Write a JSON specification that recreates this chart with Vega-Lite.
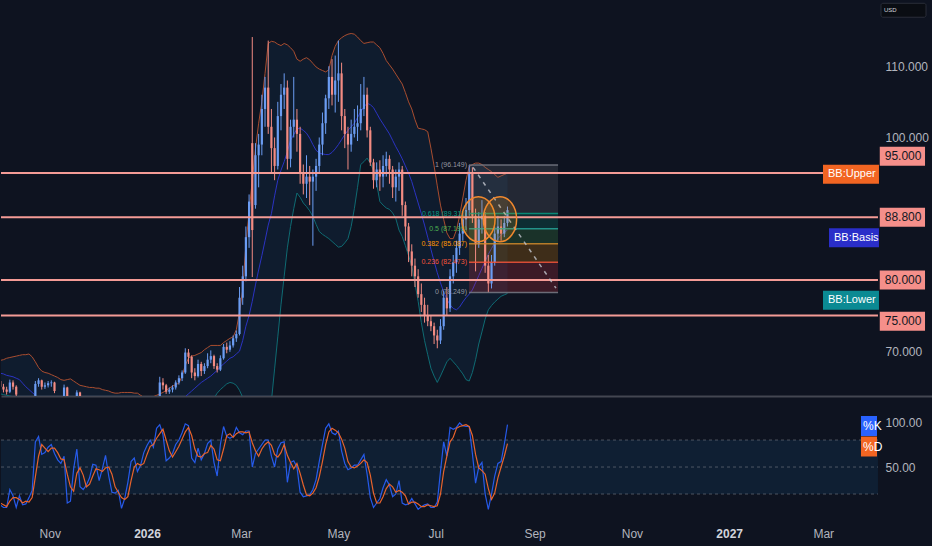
{
  "$schema": "https://vega.github.io/schema/vega-lite/v6.json",
  "background": "#0e1320",
  "padding": {"left": 0, "top": 0, "right": 0, "bottom": 7},
  "config": {
    "font": "Liberation Sans",
    "view": {"stroke": null},
    "concat": {"spacing": 1},
    "axis": {"grid": false, "ticks": false, "domain": false, "labelColor": "#b2b5be", "labelFontSize": 12}
  },
  "datasets": {
    "bars": [
      {"t":"2025-10-01","o":65.8,"h":66.3,"l":64.6,"c":65.0,"u":68.7,"m":66.9,"b":64.0,"k":8,"d":10},
      {"t":"2025-10-03","o":65.0,"h":65.4,"l":64.2,"c":64.6,"u":68.8,"m":66.8,"b":63.9,"k":5,"d":8},
      {"t":"2025-10-05","o":64.6,"h":65.0,"l":63.9,"c":64.3,"u":69.0,"m":66.6,"b":63.8,"k":5,"d":6},
      {"t":"2025-10-07","o":64.3,"h":66.0,"l":64.1,"c":65.6,"u":69.1,"m":66.5,"b":63.7,"k":25,"d":12},
      {"t":"2025-10-09","o":65.6,"h":65.9,"l":64.6,"c":65.0,"u":69.2,"m":66.4,"b":63.6,"k":18,"d":16},
      {"t":"2025-10-11","o":65.0,"h":65.2,"l":63.6,"c":63.9,"u":69.3,"m":66.2,"b":63.3,"k":5,"d":16},
      {"t":"2025-10-13","o":63.5,"h":63.6,"l":62.9,"c":63.3,"u":69.4,"m":66.0,"b":63.0,"k":18,"d":14},
      {"t":"2025-10-15","o":63.3,"h":63.4,"l":62.2,"c":62.6,"u":69.5,"m":65.5,"b":62.6,"k":8,"d":10},
      {"t":"2025-10-17","o":62.6,"h":63.1,"l":62.3,"c":62.8,"u":69.5,"m":65.0,"b":62.3,"k":9,"d":12},
      {"t":"2025-10-19","o":62.8,"h":63.3,"l":62.5,"c":63.1,"u":69.6,"m":64.6,"b":62.0,"k":16,"d":11},
      {"t":"2025-10-21","o":63.1,"h":63.6,"l":62.8,"c":63.4,"u":69.2,"m":64.2,"b":61.7,"k":24,"d":16},
      {"t":"2025-10-23","o":63.4,"h":65.8,"l":63.2,"c":65.4,"u":68.5,"m":63.8,"b":61.4,"k":78,"d":39},
      {"t":"2025-10-25","o":65.4,"h":66.2,"l":65.0,"c":65.9,"u":67.7,"m":63.3,"b":61.2,"k":84,"d":62},
      {"t":"2025-10-27","o":65.9,"h":66.0,"l":64.6,"c":65.0,"u":67.2,"m":63.0,"b":61.0,"k":64,"d":75},
      {"t":"2025-10-29","o":65.0,"h":65.6,"l":64.7,"c":65.2,"u":67.0,"m":62.9,"b":60.9,"k":66,"d":71},
      {"t":"2025-10-31","o":65.2,"h":65.8,"l":64.9,"c":65.5,"u":66.9,"m":62.8,"b":60.8,"k":72,"d":67},
      {"t":"2025-11-02","o":65.5,"h":65.9,"l":65.0,"c":65.6,"u":66.7,"m":62.8,"b":60.8,"k":75,"d":71},
      {"t":"2025-11-04","o":65.6,"h":65.7,"l":64.1,"c":64.4,"u":66.5,"m":62.7,"b":60.7,"k":65,"d":71},
      {"t":"2025-11-06","o":63.4,"h":63.5,"l":62.6,"c":63.0,"u":66.3,"m":62.6,"b":60.6,"k":58,"d":66},
      {"t":"2025-11-08","o":63.0,"h":63.5,"l":62.7,"c":63.3,"u":66.0,"m":62.5,"b":60.5,"k":54,"d":59},
      {"t":"2025-11-10","o":63.3,"h":65.3,"l":63.1,"c":64.9,"u":65.9,"m":62.4,"b":60.4,"k":62,"d":58},
      {"t":"2025-11-12","o":64.9,"h":65.0,"l":63.0,"c":63.4,"u":66.0,"m":62.3,"b":60.3,"k":10,"d":42},
      {"t":"2025-11-14","o":63.4,"h":63.5,"l":62.3,"c":62.6,"u":66.1,"m":62.2,"b":60.2,"k":12,"d":28},
      {"t":"2025-11-16","o":62.6,"h":63.4,"l":62.4,"c":63.2,"u":65.8,"m":62.1,"b":60.1,"k":48,"d":23},
      {"t":"2025-11-18","o":63.2,"h":64.5,"l":63.0,"c":64.2,"u":65.5,"m":62.0,"b":60.0,"k":70,"d":43},
      {"t":"2025-11-20","o":64.2,"h":64.3,"l":63.0,"c":63.4,"u":65.2,"m":61.9,"b":59.9,"k":28,"d":49},
      {"t":"2025-11-22","o":63.4,"h":63.5,"l":60.6,"c":61.0,"u":65.1,"m":61.9,"b":59.8,"k":25,"d":41},
      {"t":"2025-11-24","o":61.0,"h":61.6,"l":60.6,"c":61.3,"u":65.0,"m":61.8,"b":59.7,"k":30,"d":28},
      {"t":"2025-11-26","o":61.3,"h":61.9,"l":60.9,"c":61.6,"u":64.9,"m":61.8,"b":59.6,"k":38,"d":31},
      {"t":"2025-11-28","o":61.6,"h":62.3,"l":61.2,"c":62.0,"u":64.9,"m":61.8,"b":59.6,"k":53,"d":40},
      {"t":"2025-11-30","o":62.0,"h":62.3,"l":61.5,"c":61.9,"u":64.8,"m":61.7,"b":59.5,"k":52,"d":48},
      {"t":"2025-12-02","o":61.9,"h":62.2,"l":61.0,"c":61.4,"u":64.8,"m":61.7,"b":59.5,"k":35,"d":47},
      {"t":"2025-12-04","o":61.4,"h":62.1,"l":61.0,"c":61.8,"u":64.6,"m":61.7,"b":59.5,"k":48,"d":45},
      {"t":"2025-12-06","o":61.8,"h":62.6,"l":61.4,"c":62.3,"u":64.5,"m":61.6,"b":59.4,"k":63,"d":49},
      {"t":"2025-12-08","o":62.3,"h":62.6,"l":61.2,"c":61.6,"u":64.4,"m":61.6,"b":59.3,"k":40,"d":50},
      {"t":"2025-12-10","o":61.6,"h":61.9,"l":60.6,"c":61.0,"u":64.2,"m":61.6,"b":59.3,"k":22,"d":42},
      {"t":"2025-12-12","o":61.0,"h":61.3,"l":60.5,"c":60.9,"u":64.1,"m":61.5,"b":59.2,"k":21,"d":28},
      {"t":"2025-12-14","o":60.9,"h":61.3,"l":60.5,"c":61.0,"u":64.1,"m":61.5,"b":59.2,"k":24,"d":22},
      {"t":"2025-12-16","o":61.0,"h":61.3,"l":59.8,"c":60.2,"u":64.2,"m":61.5,"b":59.2,"k":4,"d":16},
      {"t":"2025-12-18","o":60.2,"h":60.9,"l":59.8,"c":60.6,"u":64.2,"m":61.5,"b":59.1,"k":15,"d":14},
      {"t":"2025-12-20","o":60.6,"h":61.5,"l":60.2,"c":61.2,"u":64.2,"m":61.5,"b":59.1,"k":33,"d":17},
      {"t":"2025-12-22","o":61.2,"h":62.2,"l":60.8,"c":61.9,"u":64.2,"m":61.5,"b":59.1,"k":56,"d":35},
      {"t":"2025-12-24","o":61.9,"h":62.4,"l":61.5,"c":62.1,"u":64.1,"m":61.5,"b":59.0,"k":60,"d":50},
      {"t":"2025-12-26","o":62.1,"h":62.4,"l":61.3,"c":61.7,"u":64.1,"m":61.5,"b":59.0,"k":45,"d":54},
      {"t":"2025-12-28","o":61.7,"h":62.2,"l":61.3,"c":61.9,"u":63.8,"m":61.5,"b":59.0,"k":52,"d":52},
      {"t":"2025-12-30","o":61.9,"h":62.7,"l":61.5,"c":62.4,"u":63.5,"m":61.5,"b":59.0,"k":66,"d":54},
      {"t":"2026-01-01","o":62.4,"h":63.0,"l":62.0,"c":62.7,"u":63.4,"m":61.5,"b":59.0,"k":74,"d":64},
      {"t":"2026-01-03","o":62.7,"h":63.2,"l":62.3,"c":62.9,"u":63.4,"m":61.5,"b":59.0,"k":80,"d":73},
      {"t":"2026-01-05","o":62.9,"h":63.2,"l":62.2,"c":62.6,"u":63.6,"m":61.6,"b":59.1,"k":72,"d":75},
      {"t":"2026-01-07","o":62.6,"h":63.3,"l":62.2,"c":63.0,"u":63.8,"m":61.7,"b":59.2,"k":93,"d":82},
      {"t":"2026-01-09","o":63.0,"h":66.4,"l":62.8,"c":65.6,"u":64.0,"m":61.8,"b":59.3,"k":97,"d":87},
      {"t":"2026-01-11","o":65.6,"h":66.2,"l":64.6,"c":65.2,"u":64.2,"m":61.9,"b":59.3,"k":86,"d":92},
      {"t":"2026-01-13","o":65.2,"h":65.4,"l":64.0,"c":64.3,"u":64.5,"m":62.0,"b":59.4,"k":57,"d":80},
      {"t":"2026-01-15","o":64.3,"h":64.9,"l":64.0,"c":64.6,"u":64.8,"m":62.2,"b":59.5,"k":60,"d":68},
      {"t":"2026-01-17","o":64.6,"h":65.2,"l":64.2,"c":64.9,"u":65.1,"m":62.4,"b":59.6,"k":65,"d":61},
      {"t":"2026-01-19","o":64.9,"h":65.9,"l":64.6,"c":65.6,"u":65.3,"m":62.6,"b":59.7,"k":75,"d":67},
      {"t":"2026-01-21","o":65.6,"h":66.6,"l":65.3,"c":66.2,"u":65.5,"m":62.9,"b":59.8,"k":80,"d":73},
      {"t":"2026-01-23","o":66.2,"h":67.3,"l":65.8,"c":67.0,"u":66.5,"m":63.2,"b":59.9,"k":88,"d":81},
      {"t":"2026-01-25","o":67.0,"h":70.4,"l":66.8,"c":69.8,"u":68.0,"m":63.6,"b":60.0,"k":98,"d":89},
      {"t":"2026-01-27","o":69.8,"h":70.3,"l":68.2,"c":69.2,"u":69.0,"m":64.0,"b":60.1,"k":96,"d":94},
      {"t":"2026-01-29","o":69.2,"h":69.4,"l":66.2,"c":67.0,"u":69.3,"m":64.4,"b":60.3,"k":60,"d":85},
      {"t":"2026-01-31","o":67.0,"h":67.6,"l":65.9,"c":66.5,"u":69.4,"m":64.8,"b":60.4,"k":55,"d":70},
      {"t":"2026-02-02","o":66.5,"h":68.8,"l":66.3,"c":68.2,"u":69.6,"m":65.2,"b":60.6,"k":71,"d":62},
      {"t":"2026-02-04","o":68.2,"h":68.5,"l":66.5,"c":67.2,"u":69.8,"m":65.6,"b":60.9,"k":58,"d":61},
      {"t":"2026-02-06","o":67.2,"h":68.3,"l":66.8,"c":67.9,"u":70.2,"m":65.9,"b":61.4,"k":65,"d":65},
      {"t":"2026-02-08","o":67.9,"h":69.7,"l":67.6,"c":68.8,"u":70.5,"m":66.2,"b":62.0,"k":76,"d":66},
      {"t":"2026-02-10","o":68.8,"h":70.1,"l":68.3,"c":69.3,"u":70.8,"m":66.5,"b":62.8,"k":80,"d":74},
      {"t":"2026-02-12","o":69.3,"h":69.5,"l":67.5,"c":67.9,"u":70.8,"m":66.9,"b":63.4,"k":55,"d":70},
      {"t":"2026-02-14","o":67.9,"h":68.3,"l":67.0,"c":67.4,"u":70.8,"m":67.3,"b":64.1,"k":40,"d":58},
      {"t":"2026-02-16","o":67.4,"h":69.4,"l":67.2,"c":69.0,"u":70.8,"m":67.8,"b":64.6,"k":75,"d":57},
      {"t":"2026-02-18","o":69.0,"h":71.0,"l":68.8,"c":70.6,"u":71.2,"m":68.2,"b":65.0,"k":95,"d":70},
      {"t":"2026-02-20","o":70.6,"h":71.2,"l":69.7,"c":70.2,"u":71.5,"m":68.6,"b":65.4,"k":84,"d":85},
      {"t":"2026-02-22","o":70.2,"h":71.4,"l":69.9,"c":70.8,"u":71.8,"m":69.0,"b":65.6,"k":82,"d":87},
      {"t":"2026-02-24","o":70.8,"h":72.2,"l":70.5,"c":71.8,"u":72.0,"m":69.2,"b":65.5,"k":84,"d":83},
      {"t":"2026-02-26","o":71.8,"h":72.9,"l":71.3,"c":72.4,"u":73.0,"m":69.6,"b":65.2,"k":94,"d":87},
      {"t":"2026-02-28","o":72.4,"h":79.0,"l":72.2,"c":77.5,"u":75.5,"m":70.0,"b":64.5,"k":88,"d":89},
      {"t":"2026-03-02","o":77.5,"h":82.0,"l":76.5,"c":80.5,"u":78.6,"m":71.5,"b":63.5,"k":86,"d":89},
      {"t":"2026-03-04","o":80.5,"h":87.5,"l":79.8,"c":86.0,"u":85.0,"m":73.5,"b":62.0,"k":90,"d":88},
      {"t":"2026-03-06","o":86.0,"h":92.0,"l":84.5,"c":91.0,"u":89.5,"m":75.0,"b":60.5,"k":90,"d":89},
      {"t":"2026-03-08","o":99.2,"h":114.1,"l":80.4,"c":87.0,"u":94.0,"m":77.0,"b":59.5,"k":50,"d":77},
      {"t":"2026-03-10","o":90.5,"h":99.2,"l":90.0,"c":97.5,"u":98.4,"m":79.3,"b":58.5,"k":65,"d":68},
      {"t":"2026-03-12","o":97.5,"h":100.5,"l":93.0,"c":99.0,"u":102.0,"m":81.4,"b":58.2,"k":70,"d":62},
      {"t":"2026-03-14","o":99.0,"h":106.0,"l":97.5,"c":104.0,"u":105.0,"m":83.4,"b":58.0,"k":75,"d":70},
      {"t":"2026-03-16","o":104.0,"h":108.5,"l":101.5,"c":107.0,"u":109.0,"m":85.5,"b":58.5,"k":80,"d":75},
      {"t":"2026-03-18","o":107.0,"h":113.6,"l":100.5,"c":101.5,"u":113.2,"m":87.7,"b":60.5,"k":80,"d":78},
      {"t":"2026-03-20","o":101.5,"h":104.0,"l":95.0,"c":98.5,"u":113.5,"m":89.3,"b":63.0,"k":62,"d":74},
      {"t":"2026-03-22","o":98.5,"h":100.0,"l":94.0,"c":96.0,"u":113.4,"m":91.8,"b":67.5,"k":50,"d":64},
      {"t":"2026-03-24","o":96.0,"h":105.0,"l":95.5,"c":103.0,"u":113.1,"m":94.0,"b":72.0,"k":70,"d":61},
      {"t":"2026-03-26","o":103.0,"h":107.5,"l":101.0,"c":106.0,"u":112.9,"m":95.4,"b":76.5,"k":77,"d":66},
      {"t":"2026-03-28","o":106.0,"h":109.0,"l":104.0,"c":107.0,"u":113.2,"m":96.6,"b":80.5,"k":78,"d":75},
      {"t":"2026-03-30","o":107.0,"h":108.0,"l":95.5,"c":97.0,"u":113.0,"m":98.0,"b":84.5,"k":33,"d":63},
      {"t":"2026-04-01","o":97.0,"h":102.5,"l":95.8,"c":101.5,"u":112.6,"m":99.6,"b":87.5,"k":55,"d":55},
      {"t":"2026-04-03","o":101.5,"h":108.5,"l":100.0,"c":102.5,"u":112.1,"m":100.4,"b":90.0,"k":57,"d":48},
      {"t":"2026-04-05","o":102.5,"h":104.0,"l":98.0,"c":100.5,"u":111.0,"m":101.2,"b":92.2,"k":50,"d":54},
      {"t":"2026-04-07","o":100.5,"h":101.5,"l":93.5,"c":95.0,"u":110.7,"m":101.3,"b":91.6,"k":22,"d":43},
      {"t":"2026-04-09","o":95.0,"h":96.2,"l":92.0,"c":93.5,"u":111.0,"m":101.0,"b":90.8,"k":17,"d":30},
      {"t":"2026-04-11","o":93.5,"h":97.5,"l":91.5,"c":94.5,"u":111.2,"m":100.6,"b":90.3,"k":18,"d":19},
      {"t":"2026-04-13","o":94.5,"h":96.0,"l":90.5,"c":93.8,"u":110.9,"m":99.9,"b":89.7,"k":19,"d":18},
      {"t":"2026-04-15","o":93.8,"h":95.5,"l":84.8,"c":94.5,"u":110.4,"m":99.0,"b":88.9,"k":25,"d":21},
      {"t":"2026-04-17","o":94.5,"h":97.0,"l":92.5,"c":96.0,"u":109.9,"m":98.2,"b":87.8,"k":36,"d":27},
      {"t":"2026-04-19","o":96.0,"h":100.0,"l":95.0,"c":99.0,"u":109.6,"m":97.8,"b":86.8,"k":56,"d":39},
      {"t":"2026-04-21","o":99.0,"h":103.5,"l":97.5,"c":102.0,"u":109.4,"m":97.7,"b":86.4,"k":75,"d":56},
      {"t":"2026-04-23","o":102.0,"h":106.0,"l":100.5,"c":105.5,"u":109.2,"m":97.6,"b":86.1,"k":93,"d":75},
      {"t":"2026-04-25","o":105.5,"h":110.0,"l":104.0,"c":108.5,"u":109.5,"m":97.6,"b":85.8,"k":98,"d":89},
      {"t":"2026-04-27","o":108.5,"h":111.0,"l":104.5,"c":106.0,"u":111.5,"m":97.9,"b":85.4,"k":88,"d":93},
      {"t":"2026-04-29","o":106.0,"h":111.5,"l":103.5,"c":108.0,"u":112.8,"m":98.4,"b":85.0,"k":86,"d":91},
      {"t":"2026-05-01","o":108.0,"h":113.6,"l":105.0,"c":109.0,"u":113.6,"m":99.0,"b":84.6,"k":90,"d":88},
      {"t":"2026-05-03","o":109.0,"h":110.5,"l":101.0,"c":103.0,"u":114.0,"m":99.7,"b":84.7,"k":68,"d":81},
      {"t":"2026-05-05","o":103.0,"h":104.0,"l":98.5,"c":100.5,"u":114.3,"m":100.4,"b":85.2,"k":54,"d":71},
      {"t":"2026-05-07","o":100.5,"h":101.5,"l":95.5,"c":99.0,"u":114.5,"m":101.0,"b":85.8,"k":47,"d":56},
      {"t":"2026-05-09","o":99.0,"h":102.5,"l":98.0,"c":100.5,"u":114.6,"m":101.5,"b":87.5,"k":49,"d":50},
      {"t":"2026-05-11","o":100.5,"h":104.0,"l":100.0,"c":101.5,"u":114.5,"m":102.0,"b":90.0,"k":52,"d":49},
      {"t":"2026-05-13","o":101.5,"h":104.5,"l":99.5,"c":102.0,"u":114.1,"m":102.8,"b":93.0,"k":52,"d":51},
      {"t":"2026-05-15","o":102.0,"h":107.5,"l":101.0,"c":104.0,"u":113.6,"m":103.6,"b":96.2,"k":58,"d":54},
      {"t":"2026-05-17","o":104.0,"h":108.5,"l":103.0,"c":106.0,"u":113.2,"m":104.3,"b":96.6,"k":64,"d":58},
      {"t":"2026-05-19","o":106.0,"h":107.0,"l":100.0,"c":101.0,"u":113.3,"m":104.8,"b":97.1,"k":42,"d":55},
      {"t":"2026-05-21","o":101.0,"h":101.5,"l":96.0,"c":96.5,"u":113.4,"m":104.6,"b":96.4,"k":16,"d":41},
      {"t":"2026-05-23","o":96.5,"h":97.0,"l":92.8,"c":94.0,"u":113.4,"m":104.2,"b":95.4,"k":5,"d":21},
      {"t":"2026-05-25","o":94.0,"h":96.5,"l":93.0,"c":95.5,"u":113.0,"m":103.4,"b":93.5,"k":10,"d":10},
      {"t":"2026-05-27","o":95.5,"h":96.8,"l":92.5,"c":94.5,"u":112.6,"m":102.6,"b":91.0,"k":15,"d":10},
      {"t":"2026-05-29","o":94.5,"h":97.5,"l":93.0,"c":96.0,"u":111.8,"m":101.9,"b":90.5,"k":27,"d":17},
      {"t":"2026-05-31","o":96.0,"h":98.0,"l":94.5,"c":97.0,"u":110.8,"m":101.2,"b":90.1,"k":36,"d":26},
      {"t":"2026-06-02","o":97.0,"h":97.5,"l":93.5,"c":95.5,"u":110.2,"m":100.5,"b":89.9,"k":30,"d":31},
      {"t":"2026-06-04","o":95.5,"h":96.0,"l":91.5,"c":93.0,"u":109.6,"m":99.6,"b":89.4,"k":17,"d":28},
      {"t":"2026-06-06","o":93.0,"h":95.5,"l":91.0,"c":94.5,"u":108.9,"m":98.7,"b":88.6,"k":20,"d":22},
      {"t":"2026-06-08","o":94.5,"h":96.5,"l":92.5,"c":95.5,"u":108.2,"m":97.9,"b":87.0,"k":35,"d":24},
      {"t":"2026-06-10","o":95.5,"h":96.0,"l":89.0,"c":90.5,"u":107.5,"m":97.0,"b":86.1,"k":10,"d":22},
      {"t":"2026-06-12","o":90.5,"h":91.0,"l":85.5,"c":87.5,"u":106.3,"m":96.0,"b":84.8,"k":8,"d":18},
      {"t":"2026-06-14","o":87.5,"h":88.0,"l":82.5,"c":84.0,"u":105.0,"m":95.0,"b":83.4,"k":9,"d":9},
      {"t":"2026-06-16","o":84.0,"h":85.0,"l":80.5,"c":82.0,"u":104.0,"m":93.8,"b":82.0,"k":15,"d":11},
      {"t":"2026-06-18","o":82.0,"h":83.0,"l":79.0,"c":80.5,"u":102.5,"m":92.3,"b":79.5,"k":9,"d":11},
      {"t":"2026-06-20","o":80.5,"h":81.5,"l":77.5,"c":78.0,"u":101.3,"m":90.8,"b":77.0,"k":3,"d":9},
      {"t":"2026-06-22","o":78.0,"h":79.5,"l":75.5,"c":76.5,"u":101.2,"m":89.3,"b":74.0,"k":6,"d":6},
      {"t":"2026-06-24","o":76.5,"h":77.5,"l":74.0,"c":75.0,"u":101.1,"m":87.7,"b":71.5,"k":8,"d":6},
      {"t":"2026-06-26","o":75.0,"h":76.5,"l":73.5,"c":74.2,"u":100.8,"m":86.0,"b":69.5,"k":9,"d":8},
      {"t":"2026-06-28","o":74.2,"h":75.0,"l":72.8,"c":73.5,"u":98.5,"m":84.3,"b":67.6,"k":5,"d":7},
      {"t":"2026-06-30","o":73.5,"h":74.0,"l":71.0,"c":72.2,"u":96.0,"m":82.6,"b":66.5,"k":5,"d":6},
      {"t":"2026-07-02","o":72.2,"h":73.0,"l":70.4,"c":71.5,"u":93.2,"m":81.0,"b":65.6,"k":11,"d":7},
      {"t":"2026-07-04","o":71.5,"h":74.5,"l":71.0,"c":73.5,"u":90.5,"m":79.6,"b":66.5,"k":45,"d":20},
      {"t":"2026-07-06","o":73.5,"h":78.5,"l":73.0,"c":77.5,"u":88.5,"m":78.3,"b":67.5,"k":78,"d":45},
      {"t":"2026-07-08","o":77.5,"h":79.0,"l":75.0,"c":76.0,"u":86.6,"m":77.3,"b":68.5,"k":62,"d":62},
      {"t":"2026-07-10","o":76.0,"h":81.5,"l":75.5,"c":80.5,"u":85.8,"m":76.5,"b":69.0,"k":94,"d":78},
      {"t":"2026-07-12","o":80.5,"h":83.5,"l":79.5,"c":82.5,"u":85.8,"m":76.0,"b":68.5,"k":92,"d":83},
      {"t":"2026-07-14","o":82.5,"h":85.5,"l":81.0,"c":84.5,"u":87.0,"m":75.8,"b":68.0,"k":94,"d":93},
      {"t":"2026-07-16","o":84.5,"h":88.0,"l":83.5,"c":86.5,"u":89.0,"m":76.2,"b":67.4,"k":99,"d":95},
      {"t":"2026-07-18","o":86.5,"h":89.5,"l":85.5,"c":88.5,"u":91.5,"m":76.9,"b":66.8,"k":96,"d":96},
      {"t":"2026-07-20","o":88.5,"h":91.5,"l":87.0,"c":89.8,"u":94.0,"m":77.5,"b":66.0,"k":95,"d":97},
      {"t":"2026-07-22","o":89.8,"h":96.15,"l":89.0,"c":95.0,"u":95.9,"m":78.0,"b":65.8,"k":95,"d":95},
      {"t":"2026-07-24","o":95.0,"h":95.8,"l":88.0,"c":89.0,"u":96.2,"m":78.6,"b":67.0,"k":65,"d":85},
      {"t":"2026-07-26","o":89.0,"h":90.0,"l":81.2,"c":85.0,"u":96.4,"m":79.6,"b":68.8,"k":32,"d":64},
      {"t":"2026-07-28","o":85.0,"h":89.5,"l":84.5,"c":88.5,"u":96.4,"m":80.6,"b":71.0,"k":50,"d":49},
      {"t":"2026-07-30","o":88.5,"h":91.2,"l":86.5,"c":89.0,"u":96.2,"m":81.6,"b":72.7,"k":55,"d":46},
      {"t":"2026-08-01","o":89.0,"h":89.5,"l":81.0,"c":82.0,"u":95.8,"m":82.6,"b":74.5,"k":20,"d":42},
      {"t":"2026-08-03","o":82.0,"h":83.5,"l":78.25,"c":79.5,"u":95.5,"m":83.6,"b":75.8,"k":3,"d":26},
      {"t":"2026-08-05","o":79.5,"h":83.5,"l":78.8,"c":82.5,"u":95.2,"m":84.4,"b":76.4,"k":20,"d":14},
      {"t":"2026-08-07","o":82.5,"h":87.5,"l":82.0,"c":86.5,"u":94.8,"m":85.2,"b":76.9,"k":40,"d":21},
      {"t":"2026-08-09","o":86.5,"h":89.0,"l":85.5,"c":87.5,"u":94.4,"m":85.8,"b":77.3,"k":54,"d":38},
      {"t":"2026-08-11","o":87.5,"h":88.5,"l":85.5,"c":86.5,"u":94.6,"m":86.3,"b":77.7,"k":56,"d":50},
      {"t":"2026-08-13","o":86.5,"h":89.0,"l":86.0,"c":88.0,"u":94.8,"m":86.7,"b":77.9,"k":75,"d":62},
      {"t":"2026-08-15","o":88.0,"h":90.3,"l":87.5,"c":89.8,"u":95.0,"m":87.0,"b":78.1,"k":97,"d":76}
    ],
    "fib": [
      {"lv":"1","p":96.149,"lab":"1 (96.149)"},
      {"lv":"0.618","p":89.311,"lab":"0.618 (89.311)"},
      {"lv":"0.5","p":87.199,"lab":"0.5 (87.199)"},
      {"lv":"0.382","p":85.087,"lab":"0.382 (85.087)"},
      {"lv":"0.236","p":82.473,"lab":"0.236 (82.473)"},
      {"lv":"0","p":78.249,"lab":"0 (78.249)"}
    ],
    "fibBands": [
      {"lv":"1","p":89.311,"p2":96.149},
      {"lv":"0.618","p":87.199,"p2":89.311},
      {"lv":"0.5","p":85.087,"p2":87.199},
      {"lv":"0.382","p":82.473,"p2":85.087},
      {"lv":"0.236","p":78.249,"p2":82.473}
    ],
    "hlines": [{"p":95},{"p":88.8},{"p":80},{"p":75}],
    "circles": [
      {"t":"2026-07-27T19:00:00Z","p":88.53},
      {"t":"2026-08-10T07:00:00Z","p":88.53}
    ],
    "trend": [{"t":"2026-07-24T10:00:00Z","p":95.8,"t2":"2026-09-14T10:00:00Z","p2":78.84}],
    "tags": [
      {"txt":"95.000","p":97.37,"t0":"2027-04-05T10:00:00Z","t1":"2027-05-03T19:00:00Z"},
      {"txt":"88.800","p":88.8,"t0":"2027-04-05T10:00:00Z","t1":"2027-05-03T19:00:00Z"},
      {"txt":"80.000","p":80.0,"t0":"2027-04-05T10:00:00Z","t1":"2027-05-03T19:00:00Z"},
      {"txt":"75.000","p":74.21,"t0":"2027-04-05T10:00:00Z","t1":"2027-05-03T19:00:00Z"},
      {"txt":"BB:Upper","p":94.84,"t0":"2027-02-28T19:40:00Z","t1":"2027-04-04T22:00:00Z"},
      {"txt":"BB:Basis","p":85.93,"t0":"2027-03-04T14:00:00Z","t1":"2027-04-04T22:00:00Z"},
      {"txt":"BB:Lower","p":77.16,"t0":"2027-02-28T19:40:00Z","t1":"2027-04-04T22:00:00Z"}
    ],
    "stochLevels": [{"v":20},{"v":50},{"v":80}],
    "stochTags": [
      {"txt":"%K","v":95.6,"t0":"2027-03-24T15:00:00Z","t1":"2027-04-03T16:00:00Z"},
      {"txt":"%D","v":72.8,"t0":"2027-03-24T15:00:00Z","t1":"2027-04-03T16:00:00Z"}
    ]
  },
  "vconcat": [
    {
      "width": 932,
      "height": 396,
      "resolve": {"scale": {"color": "independent"}},
      "layer": [
        {
          "data": {"name": "bars"},
          "mark": {"type": "area", "fill": "#2196f3", "fillOpacity": 0.07, "clip": true},
          "encoding": {
            "x": {
              "field": "t", "type": "temporal", "title": null,
              "scale": {"type": "utc", "padding": 0, "domain": [
                {"year": 2025, "month": 10, "date": 1, "hours": 11, "utc": true},
                {"year": 2027, "month": 5, "date": 8, "hours": 19, "utc": true}
              ]},
              "axis": {"labels": false, "domain": true, "domainColor": "#434651", "domainWidth": 2}
            },
            "y": {
              "field": "u", "type": "quantitative", "title": null,
              "scale": {"domain": [63.7, 119.3], "zero": false, "nice": false},
              "axis": {"orient": "right", "offset": -55, "values": [70, 100, 110], "format": ".3f", "labelPadding": 7, "labelAlign": "left"}
            },
            "y2": {"field": "b"}
          }
        },
        {
          "data": {"name": "bars"},
          "mark": {"type": "line", "stroke": "#a94d2f", "strokeWidth": 1, "clip": true},
          "encoding": {
            "x": {"field": "t", "type": "temporal", "title": null},
            "y": {"field": "u", "type": "quantitative", "title": null}
          }
        },
        {
          "data": {"name": "bars"},
          "mark": {"type": "line", "stroke": "#0f6b73", "strokeWidth": 1, "clip": true},
          "encoding": {
            "x": {"field": "t", "type": "temporal", "title": null},
            "y": {"field": "b", "type": "quantitative", "title": null}
          }
        },
        {
          "data": {"name": "bars"},
          "mark": {"type": "line", "stroke": "#2b33c2", "strokeWidth": 1, "clip": true},
          "encoding": {
            "x": {"field": "t", "type": "temporal", "title": null},
            "y": {"field": "m", "type": "quantitative", "title": null}
          }
        },
        {
          "data": {"name": "fibBands"},
          "mark": {"type": "rect", "opacity": 0.2},
          "encoding": {
            "x": {"datum": {"year": 2026, "month": 7, "date": 21, "hours": 21, "utc": true}, "type": "temporal"},
            "x2": {"datum": {"year": 2026, "month": 9, "date": 15, "hours": 17, "utc": true}},
            "y": {"field": "p", "type": "quantitative", "title": null},
            "y2": {"field": "p2"},
            "color": {"field": "lv", "type": "nominal", "legend": null,
              "scale": {"domain": ["1", "0.618", "0.5", "0.382", "0.236", "0"], "range": ["#787b86", "#089981", "#4caf50", "#ff9800", "#f23645", "#787b86"]}}
          }
        },
        {
          "data": {"name": "bars"},
          "mark": {"type": "rule", "strokeWidth": 1, "clip": true},
          "encoding": {
            "x": {"field": "t", "type": "temporal", "title": null},
            "y": {"field": "l", "type": "quantitative", "title": null},
            "y2": {"field": "h"},
            "color": {"condition": {"test": "datum.c >= datum.o", "value": "#6b9cf2"}, "value": "#f28b82"}
          }
        },
        {
          "data": {"name": "bars"},
          "mark": {"type": "bar", "width": 2.2, "clip": true},
          "encoding": {
            "x": {"field": "t", "type": "temporal", "title": null},
            "y": {"field": "o", "type": "quantitative", "title": null},
            "y2": {"field": "c"},
            "color": {"condition": {"test": "datum.c >= datum.o", "value": "#6b9cf2"}, "value": "#f28b82"}
          }
        },
        {
          "data": {"name": "fib"},
          "mark": {"type": "rule", "strokeWidth": 1.5, "opacity": 0.85},
          "encoding": {
            "x": {"datum": {"year": 2026, "month": 7, "date": 21, "hours": 21, "utc": true}, "type": "temporal"},
            "x2": {"datum": {"year": 2026, "month": 9, "date": 15, "hours": 17, "utc": true}},
            "y": {"field": "p", "type": "quantitative", "title": null},
            "color": {"field": "lv", "type": "nominal", "legend": null,
              "scale": {"domain": ["1", "0.618", "0.5", "0.382", "0.236", "0"], "range": ["#787b86", "#089981", "#26a69a", "#d08a2c", "#f4553a", "#787b86"]}}
          }
        },
        {
          "data": {"name": "fib"},
          "mark": {"type": "text", "align": "right", "baseline": "middle", "dx": -2, "fontSize": 7},
          "encoding": {
            "x": {"datum": {"year": 2026, "month": 7, "date": 21, "hours": 21, "utc": true}, "type": "temporal"},
            "y": {"field": "p", "type": "quantitative", "title": null},
            "text": {"field": "lab"},
            "color": {"field": "lv", "type": "nominal", "legend": null,
              "scale": {"domain": ["1", "0.618", "0.5", "0.382", "0.236", "0"], "range": ["#9598a1", "#089981", "#4caf50", "#ff9800", "#f4553a", "#9598a1"]}}
          }
        },
        {
          "data": {"name": "hlines"},
          "mark": {"type": "rule", "stroke": "#f49b96", "strokeWidth": 2},
          "encoding": {
            "x": {"datum": {"year": 2025, "month": 10, "date": 1, "hours": 11, "utc": true}, "type": "temporal"},
            "x2": {"datum": {"year": 2027, "month": 4, "date": 4, "hours": 7, "utc": true}},
            "y": {"field": "p", "type": "quantitative", "title": null}
          }
        },
        {
          "data": {"name": "trend"},
          "mark": {"type": "rule", "stroke": "#c3c6ce", "strokeWidth": 1.5, "strokeDash": [4, 5], "opacity": 0.8},
          "encoding": {
            "x": {"field": "t", "type": "temporal", "title": null},
            "x2": {"field": "t2"},
            "y": {"field": "p", "type": "quantitative", "title": null},
            "y2": {"field": "p2"}
          }
        },
        {
          "data": {"name": "circles"},
          "mark": {"type": "point", "shape": "M -0.74 0 A 0.74 1 0 1 0 0.74 0 A 0.74 1 0 1 0 -0.74 0 Z", "size": 2025, "filled": true, "color": "#ff9800", "fillOpacity": 0.16, "stroke": "#f0882e", "strokeWidth": 1.5, "strokeOpacity": 1, "opacity": 1},
          "encoding": {
            "x": {"field": "t", "type": "temporal", "title": null},
            "y": {"field": "p", "type": "quantitative", "title": null}
          }
        },
        {
          "data": {"name": "tags"},
          "mark": {"type": "rect", "height": 19},
          "encoding": {
            "x": {"field": "t0", "type": "temporal", "title": null},
            "x2": {"field": "t1"},
            "y": {"field": "p", "type": "quantitative", "title": null},
            "color": {"field": "txt", "type": "nominal", "legend": null,
              "scale": {"domain": ["95.000", "88.800", "80.000", "75.000", "BB:Upper", "BB:Basis", "BB:Lower"], "range": ["#f58f8a", "#f58f8a", "#f58f8a", "#f58f8a", "#f26522", "#2a2ec9", "#0b8a93"]}}
          }
        },
        {
          "data": {"name": "tags"},
          "mark": {"type": "text", "align": "left", "baseline": "middle", "dx": 5},
          "encoding": {
            "x": {"field": "t0", "type": "temporal", "title": null},
            "y": {"field": "p", "type": "quantitative", "title": null},
            "text": {"field": "txt"},
            "size": {"condition": {"test": "indexof(datum.txt, 'BB') === 0", "value": 11}, "value": 12},
            "color": {"condition": {"test": "indexof(datum.txt, 'BB') === 0", "value": "#ffffff"}, "value": "#131722"}
          }
        },
        {
          "data": {"values": [{}]},
          "mark": {"type": "rect", "fill": "#0a0d13", "stroke": "#2a2e39", "strokeWidth": 1, "cornerRadius": 2},
          "encoding": {
            "x": {"datum": {"year": 2027, "month": 4, "date": 6, "hours": 4, "utc": true}, "type": "temporal"},
            "x2": {"datum": {"year": 2027, "month": 5, "date": 4, "hours": 10, "utc": true}},
            "y": {"datum": 118.84, "type": "quantitative"},
            "y2": {"datum": 116.88}
          }
        },
        {
          "data": {"values": [{"txt": "USD"}]},
          "mark": {"type": "text", "align": "left", "baseline": "middle", "fontSize": 6, "color": "#d1d4dc"},
          "encoding": {
            "x": {"datum": {"year": 2027, "month": 4, "date": 8, "utc": true}, "type": "temporal"},
            "y": {"datum": 117.86, "type": "quantitative"},
            "text": {"field": "txt"}
          }
        }
      ]
    },
    {
      "width": 932,
      "height": 117,
      "resolve": {"scale": {"color": "independent"}},
      "layer": [
        {
          "data": {"values": [{}]},
          "mark": {"type": "rect", "fill": "#2196f3", "fillOpacity": 0.09},
          "encoding": {
            "x": {"datum": {"year": 2025, "month": 10, "date": 1, "hours": 11, "utc": true}, "type": "temporal",
              "scale": {"type": "utc", "padding": 0, "domain": [
                {"year": 2025, "month": 10, "date": 1, "hours": 11, "utc": true},
                {"year": 2027, "month": 5, "date": 8, "hours": 19, "utc": true}
              ]},
              "axis": {"labelPadding": 14, "labelFontSize": 12,
                "values": [
                  {"year": 2025, "month": 11, "date": 1, "utc": true},
                  {"year": 2026, "month": 1, "date": 1, "utc": true},
                  {"year": 2026, "month": 3, "date": 1, "utc": true},
                  {"year": 2026, "month": 5, "date": 1, "utc": true},
                  {"year": 2026, "month": 7, "date": 1, "utc": true},
                  {"year": 2026, "month": 9, "date": 1, "utc": true},
                  {"year": 2026, "month": 11, "date": 1, "utc": true},
                  {"year": 2027, "month": 1, "date": 1, "utc": true},
                  {"year": 2027, "month": 3, "date": 1, "utc": true}
                ],
                "labelExpr": "utcmonth(datum.value) === 0 ? utcFormat(datum.value, '%Y') : utcFormat(datum.value, '%b')",
                "labelFontWeight": {"condition": {"test": "utcmonth(datum.value) === 0", "value": "bold"}, "value": "normal"},
                "labelColor": {"condition": {"test": "utcmonth(datum.value) === 0", "value": "#d1d4dc"}, "value": "#b2b5be"}
              }
            },
            "x2": {"datum": {"year": 2027, "month": 4, "date": 4, "hours": 7, "utc": true}},
            "y": {"datum": 20, "type": "quantitative",
              "scale": {"domain": [-2.2, 127.8], "zero": false, "nice": false},
              "axis": {"orient": "right", "offset": -55, "values": [50, 100], "format": ".2f", "labelPadding": 7, "labelAlign": "left"}},
            "y2": {"datum": 80}
          }
        },
        {
          "data": {"name": "stochLevels"},
          "mark": {"type": "rule", "stroke": "#787b86", "strokeWidth": 1, "strokeDash": [3, 3], "opacity": 0.6},
          "encoding": {
            "x": {"datum": {"year": 2025, "month": 10, "date": 1, "hours": 11, "utc": true}, "type": "temporal"},
            "x2": {"datum": {"year": 2027, "month": 4, "date": 4, "hours": 7, "utc": true}},
            "y": {"field": "v", "type": "quantitative", "title": null}
          }
        },
        {
          "data": {"name": "bars"},
          "mark": {"type": "line", "stroke": "#2962ff", "strokeWidth": 1.2, "opacity": 0.9, "clip": true},
          "encoding": {
            "x": {"field": "t", "type": "temporal", "title": null},
            "y": {"field": "k", "type": "quantitative", "title": null}
          }
        },
        {
          "data": {"name": "bars"},
          "mark": {"type": "line", "stroke": "#e8632c", "strokeWidth": 1.2, "clip": true},
          "encoding": {
            "x": {"field": "t", "type": "temporal", "title": null},
            "y": {"field": "d", "type": "quantitative", "title": null}
          }
        },
        {
          "data": {"name": "stochTags"},
          "mark": {"type": "rect", "height": 20},
          "encoding": {
            "x": {"field": "t0", "type": "temporal", "title": null},
            "x2": {"field": "t1"},
            "y": {"field": "v", "type": "quantitative", "title": null},
            "color": {"field": "txt", "type": "nominal", "legend": null,
              "scale": {"domain": ["%K", "%D"], "range": ["#2962ff", "#f26522"]}}
          }
        },
        {
          "data": {"name": "stochTags"},
          "mark": {"type": "text", "align": "left", "baseline": "middle", "dx": 2, "fontSize": 12, "color": "#ffffff"},
          "encoding": {
            "x": {"field": "t0", "type": "temporal", "title": null},
            "y": {"field": "v", "type": "quantitative", "title": null},
            "text": {"field": "txt"}
          }
        }
      ]
    }
  ]
}
